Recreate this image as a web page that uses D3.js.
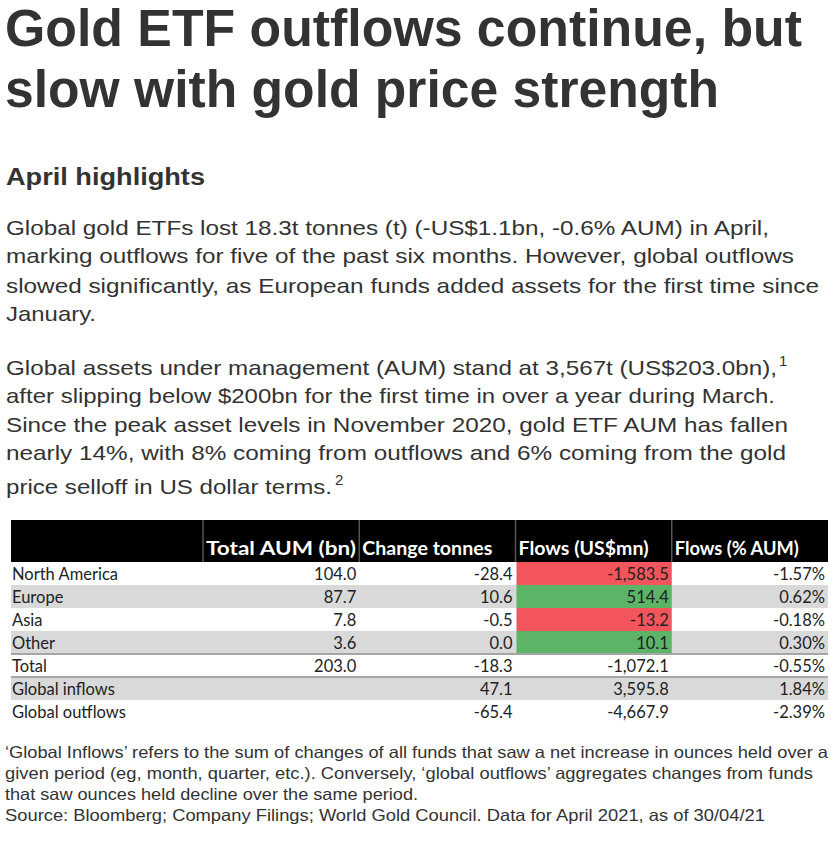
<!DOCTYPE html>
<html>
<head>
<meta charset="utf-8">
<script src="https://cdn.jsdelivr.net/npm/d3@7"></script>
<style>
  html, body { margin: 0; padding: 0; background: #fff; }
  text { font-family: "Liberation Sans", Arial, sans-serif; fill: #333; }
  .tbl text { font-family: Lato, "Open Sans", sans-serif; }
</style>
</head>
<body>
<div id="page"></div>
<script>
// table data
var headers = ['', 'Total AUM (bn)', 'Change tonnes', 'Flows (US$mn)', 'Flows (% AUM)'];
var headerWidths = [0, 150, 130, 130, 124];
var regions = ['North America', 'Europe', 'Asia', 'Other', 'Total', 'Global inflows', 'Global outflows'];
var aum = [104.0, 87.7, 7.8, 3.6, 203.0, null, null];
var changeTonnes = [-28.4, 10.6, -0.5, 0.0, -18.3, 47.1, -65.4];
var flowsUsd = [-1583.5, 514.4, -13.2, 10.1, -1072.1, 3595.8, -4667.9];
var flowsPct = [-1.57, 0.62, -0.18, 0.30, -0.55, 1.84, -2.39];
var shadedRows = ['Europe', 'Other', 'Global inflows'];
var coloredRows = ['North America', 'Europe', 'Asia', 'Other'];

// text
var titleLines = ['Gold ETF outflows continue, but', 'slow with gold price strength'];
var subhead = 'April highlights';
var para1 = [
    'Global gold ETFs lost 18.3t tonnes (t) (-US$1.1bn, -0.6% AUM) in April,',
    'marking outflows for five of the past six months. However, global outflows',
    'slowed significantly, as European funds added assets for the first time since',
    'January.'
];
var para2 = [
    'Global assets under management (AUM) stand at 3,567t (US$203.0bn),',
    'after slipping below $200bn for the first time in over a year during March.',
    'Since the peak asset levels in November 2020, gold ETF AUM has fallen',
    'nearly 14%, with 8% coming from outflows and 6% coming from the gold',
    'price selloff in US dollar terms.'
];
var notes = [
    '\u2018Global Inflows\u2019 refers to the sum of changes of all funds that saw a net increase in ounces held over a',
    'given period (eg, month, quarter, etc.). Conversely, \u2018global outflows\u2019 aggregates changes from funds',
    'that saw ounces held decline over the same period.',
    'Source: Bloomberg; Company Filings; World Gold Council. Data for April 2021, as of 30/04/21'
];

var width = 837, height = 843;
var svg = d3.select('#page').append('svg')
    .attr('width', width)
    .attr('height', height);

// one line of squeezed text, stretched to the width it has in the picture
function line(txt, x, y, w, size, weight) {
    return svg.append('text')
        .attr('x', x)
        .attr('y', y)
        .attr('font-size', size)
        .attr('font-weight', weight || 'normal')
        .attr('textLength', w)
        .attr('lengthAdjust', 'spacingAndGlyphs')
        .text(txt);
}

line(titleLines[0], 5, 46, 797, 51, 'bold');
line(titleLines[1], 5, 107, 714, 51, 'bold');
line(subhead, 6, 185, 199, 23, 'bold');

var p1Y = [235, 263, 293, 321];
var p1W = [763, 788, 813, 90];
para1.forEach((t, i) => line(t, 6, p1Y[i], p1W[i], 21));

var p2Y = [375, 403, 432, 460, 494];
var p2W = [771, 769, 782, 780, 326];
para2.forEach((t, i) => line(t, 6, p2Y[i], p2W[i], 21));
svg.append('text').attr('x', 779).attr('y', 366).attr('font-size', 15).text('1');
svg.append('text').attr('x', 335).attr('y', 485).attr('font-size', 15).text('2');

var nY = [758, 779, 800, 821];
var nW = [823, 808, 413, 760];
notes.forEach((t, i) => line(t, 5, nY[i], nW[i], 16.5));

// ---- table ----
var fmt = d3.formatLocale({decimal: '.', thousands: ',', grouping: [3], currency: ['$', ''], minus: '-'});
var f1 = fmt.format(',.1f');
var pct = v => fmt.format('.2f')(v) + '%';

var rows = regions.map((r, i) => ({
    region: r,
    cells: [aum[i] == null ? '' : f1(aum[i]), f1(changeTonnes[i]), f1(flowsUsd[i]), pct(flowsPct[i])],
    flow: flowsUsd[i]
}));

var left = 11, right = 828, firstCol = 203;
var headTop = 520, headBottom = 562, tableBottom = 723;

var yScale = d3.scaleBand()
    .domain(regions)
    .range([headBottom, tableBottom]);
var xScale = d3.scaleBand()
    .domain(headers.slice(1))
    .range([firstCol, right]);

var tbl = svg.append('g').attr('class', 'tbl');

// header
tbl.append('rect')
    .attr('x', left).attr('y', headTop)
    .attr('width', right - left).attr('height', headBottom - headTop)
    .attr('fill', '#000');
tbl.selectAll('line.div')
    .data(headers.slice(1))
    .enter().append('line')
    .attr('class', 'div')
    .attr('x1', d => xScale(d)).attr('x2', d => xScale(d))
    .attr('y1', headTop).attr('y2', headBottom)
    .attr('stroke', '#555').attr('stroke-width', 1.5);
tbl.selectAll('text.head')
    .data(headers.slice(1))
    .enter().append('text')
    .attr('class', 'head')
    .attr('x', d => xScale(d) + 3)
    .attr('y', headBottom - 7)
    .attr('font-size', 18)
    .attr('font-weight', 'bold')
    .attr('textLength', d => headerWidths[headers.indexOf(d)])
    .attr('lengthAdjust', 'spacingAndGlyphs')
    .style('fill', '#fff')
    .text(d => d);

// body rows
var rowG = tbl.selectAll('g.row')
    .data(rows)
    .enter().append('g')
    .attr('class', 'row')
    .attr('transform', d => 'translate(0,' + yScale(d.region) + ')');

rowG.append('rect')
    .attr('x', left).attr('width', right - left)
    .attr('height', yScale.bandwidth())
    .attr('fill', d => shadedRows.includes(d.region) ? '#d9d9d9' : '#fff');

rowG.filter(d => coloredRows.includes(d.region))
    .append('rect')
    .attr('x', xScale(headers[3]) + 1)
    .attr('width', xScale.bandwidth() - 1)
    .attr('height', yScale.bandwidth())
    .attr('fill', d => d.flow < 0 ? '#f2555c' : '#5cb467');

rowG.append('text')
    .attr('x', left + 1)
    .attr('y', 18)
    .attr('font-size', 16.5)
    .style('fill', '#222')
    .text(d => d.region);

rowG.selectAll('text.num')
    .data(d => d.cells.map((c, j) => ({col: headers[j + 1], txt: c})))
    .enter().append('text')
    .attr('class', 'num')
    .attr('x', d => xScale(d.col) + xScale.bandwidth() - 3)
    .attr('y', 18)
    .attr('text-anchor', 'end')
    .attr('font-size', 16.5)
    .style('fill', '#222')
    .text(d => d.txt);

// rules above Total and Global inflows
tbl.selectAll('line.rule')
    .data(['Total', 'Global inflows'])
    .enter().append('line')
    .attr('class', 'rule')
    .attr('x1', left).attr('x2', right)
    .attr('y1', d => yScale(d)).attr('y2', d => yScale(d))
    .attr('stroke', '#a6a6a6').attr('stroke-width', 2);
</script>
</body>
</html>
